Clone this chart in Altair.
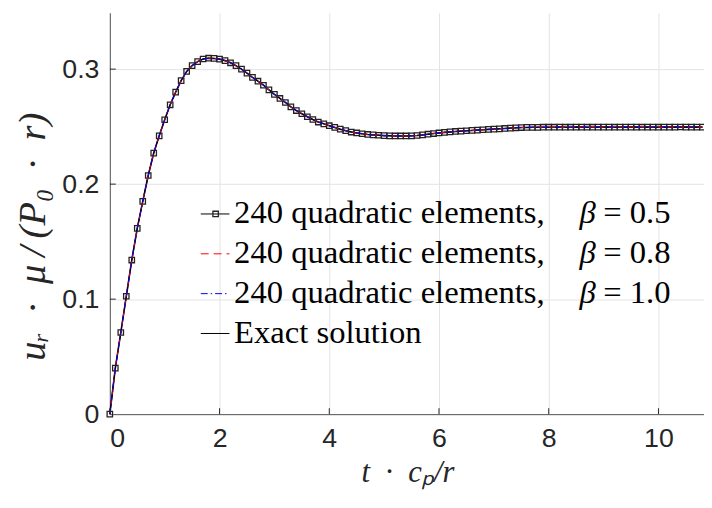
import altair as alt
import pandas as pd

# ---- data ----
T = [0.0, 0.1, 0.2, 0.3, 0.4, 0.5, 0.6, 0.7, 0.8, 0.9,
     1.0, 1.1, 1.2, 1.3, 1.4, 1.5, 1.6, 1.7, 1.8, 1.9,
     2.0, 2.1, 2.2, 2.3, 2.4, 2.5, 2.6, 2.7, 2.8, 2.9,
     3.0, 3.1, 3.2, 3.3, 3.4, 3.5, 3.6, 3.7, 3.8, 3.9,
     4.0, 4.1, 4.2, 4.3, 4.4, 4.5, 4.6, 4.7, 4.8, 4.9,
     5.0, 5.1, 5.2, 5.3, 5.4, 5.5, 5.6, 5.7, 5.8, 5.9,
     6.0, 6.1, 6.2, 6.3, 6.4, 6.5, 6.6, 6.7, 6.8, 6.9,
     7.0, 7.1, 7.2, 7.3, 7.4, 7.5, 7.6, 7.7, 7.8, 7.9,
     8.0, 8.1, 8.2, 8.3, 8.4, 8.5, 8.6, 8.7, 8.8, 8.9,
     9.0, 9.1, 9.2, 9.3, 9.4, 9.5, 9.6, 9.7, 9.8, 9.9,
     10.0, 10.1, 10.2, 10.3, 10.4, 10.5, 10.6, 10.7, 10.8]

U_EXACT = [0.0000, 0.0400, 0.0710, 0.1025, 0.1340, 0.1615, 0.1850, 0.2075, 0.2270, 0.2420,
           0.2560, 0.2690, 0.2800, 0.2900, 0.2980, 0.3030, 0.3065, 0.3088, 0.3095, 0.3093,
           0.3087, 0.3074, 0.3055, 0.3030, 0.3000, 0.2965, 0.2928, 0.2895, 0.2860, 0.2820,
           0.2780, 0.2745, 0.2710, 0.2672, 0.2640, 0.2612, 0.2586, 0.2562, 0.2540, 0.2524,
           0.2508, 0.2493, 0.2478, 0.2465, 0.2453, 0.2445, 0.2438, 0.2432, 0.2428, 0.2425,
           0.2422, 0.2420, 0.2419, 0.2419, 0.2419, 0.2420, 0.2423, 0.2428, 0.2434, 0.2440,
           0.2445, 0.2450, 0.2454, 0.2458, 0.2461, 0.2464, 0.2467, 0.2470, 0.2473, 0.2476,
           0.2478, 0.2481, 0.2484, 0.2487, 0.2490, 0.2492, 0.2493, 0.2494, 0.2494, 0.2495,
           0.2495, 0.2495, 0.2496, 0.2495, 0.2495, 0.2496, 0.2496, 0.2495, 0.2495, 0.2496,
           0.2496, 0.2496, 0.2495, 0.2496, 0.2496, 0.2496, 0.2496, 0.2495, 0.2496, 0.2496,
           0.2495, 0.2496, 0.2496, 0.2496, 0.2497, 0.2496, 0.2496, 0.2496, 0.2496]

# the three FE runs are indistinguishable from the exact curve at picture resolution
U_BETA05 = list(U_EXACT)
U_BETA08 = list(U_EXACT)
U_BETA10 = list(U_EXACT)

X_TICKS = [0, 2, 4, 6, 8, 10]
Y_TICKS = [0, 0.1, 0.2, 0.3]
Y_INNER_TICKS = [0.1, 0.2, 0.3]

LEG_PREFIX = ["240 quadratic elements,", "240 quadratic elements,",
              "240 quadratic elements,", "Exact solution"]
LEG_BETA = ["β", "β", "β", ""]
LEG_VALUE = ["= 0.5", "= 0.8", "= 1.0", ""]

# ---- layout / style ----
W, H = 601, 406
XMAX, YMAX = 10.83, 0.349
AX = "#262626"
SANS = "Liberation Sans"
SERIF = "Liberation Serif"
SP = "\u2002"
TH = "\u2009"

xs = alt.Scale(domain=[0, XMAX], nice=False, zero=False)
ys = alt.Scale(domain=[0, YMAX], nice=False, zero=False)

xaxis = alt.Axis(values=X_TICKS, format="d", grid=True, gridColor="#e3e3e3", gridWidth=1,
                 ticks=False, domainColor="#555555", domainWidth=1,
                 labelFont=SANS, labelFontSize=27, labelColor=AX, labelPadding=12,
                 title=f"t{SP}·{SP}cₚ/r", titleFont=SERIF, titleFontStyle="italic",
                 titleFontWeight="normal", titleFontSize=31, titleColor=AX,
                 titleX=301, titleY=68, titleBaseline="alphabetic", titleAlign="center")
yaxis = alt.Axis(values=Y_TICKS, format="~g", grid=True, gridColor="#e3e3e3", gridWidth=1,
                 ticks=False, domainColor="#555555", domainWidth=1,
                 labelFont=SANS, labelFontSize=27, labelColor=AX, labelPadding=11,
                 title=f"uᵣ{SP}·{SP}μ{TH}/{TH}(P₀{SP}·{SP}r)", titleFont=SERIF,
                 titleFontStyle="italic",
                 titleFontWeight="normal", titleFontSize=39, titleColor=AX,
                 titleAngle=270, titleX=-66, titleY=226, titleBaseline="alphabetic",
                 titleAlign="center")

def frame(u):
    return pd.DataFrame({"t": T, "u": u})

X = alt.X("t:Q", scale=xs, axis=xaxis)
Y = alt.Y("u:Q", scale=ys, axis=yaxis)

exact = alt.Chart(frame(U_EXACT)).mark_line(color="black", strokeWidth=1.6).encode(x=X, y=Y)
b05_line = alt.Chart(frame(U_BETA05)).mark_line(color="black", strokeWidth=1).encode(x=X, y=Y)
b05_pts = alt.Chart(frame(U_BETA05)).mark_point(shape="square", size=30, filled=False,
                                                 color="#222222", strokeWidth=1.3,
                                                 opacity=1).encode(x=X, y=Y)
b08 = alt.Chart(frame(U_BETA08)).mark_line(color="#ff0000", strokeWidth=1,
                                           strokeDash=[6, 4]).encode(x=X, y=Y)
b10 = alt.Chart(frame(U_BETA10)).mark_line(color="#0000ff", strokeWidth=1,
                                           strokeDash=[6, 3, 1.5, 3]).encode(x=X, y=Y)

# inward ticks (MATLAB style)
xt = alt.Chart(pd.DataFrame({"t": X_TICKS})).mark_rule(color=AX, strokeWidth=1).encode(
    x=X, y=alt.value(H), y2=alt.value(H - 6))
yt = alt.Chart(pd.DataFrame({"u": Y_INNER_TICKS})).mark_rule(color=AX, strokeWidth=1).encode(
    y=Y, x=alt.value(0), x2=alt.value(6))

# manual legend
LINE_Y0, TEXT_Y0, STEP = 203.5, 213.0, 40.3
FS = 33
leg_layers = []
one = pd.DataFrame({"k": [0]})
styles = [dict(color="black", strokeWidth=1),
          dict(color="#ff0000", strokeWidth=1, strokeDash=[8, 5]),
          dict(color="#0000ff", strokeWidth=1, strokeDash=[7, 3, 1.5, 3]),
          dict(color="black", strokeWidth=1)]
for i in range(4):
    ly = LINE_Y0 + i * STEP
    ty = TEXT_Y0 + i * STEP
    leg_layers.append(alt.Chart(one).mark_rule(**styles[i]).encode(
        x=alt.value(92), x2=alt.value(121), y=alt.value(ly)))
    if i == 0:
        leg_layers.append(alt.Chart(one).mark_point(shape="square", size=30, filled=False,
                                                    color="#222222", strokeWidth=1.3,
                                                    opacity=1).encode(
            x=alt.value(107), y=alt.value(ly)))
    leg_layers.append(alt.Chart(pd.DataFrame({"s": [LEG_PREFIX[i]]})).mark_text(
        align="left", baseline="alphabetic", font=SERIF, fontSize=FS, color="black").encode(
        text="s:N", x=alt.value(125.7), y=alt.value(ty)))
    if LEG_BETA[i]:
        leg_layers.append(alt.Chart(pd.DataFrame({"s": [LEG_BETA[i]]})).mark_text(
            align="left", baseline="alphabetic", font=SERIF, fontSize=FS, fontStyle="italic",
            color="black").encode(text="s:N", x=alt.value(475), y=alt.value(ty)))
        leg_layers.append(alt.Chart(pd.DataFrame({"s": [LEG_VALUE[i]]})).mark_text(
            align="left", baseline="alphabetic", font=SERIF, fontSize=FS,
            color="black").encode(text="s:N", x=alt.value(499), y=alt.value(ty)))

chart = alt.layer(exact, b05_line, b05_pts, b08, b10, xt, yt, *leg_layers).properties(
    width=W, height=H,
    autosize=alt.AutoSizeParams(type="none"),
    padding={"left": 103, "top": 2, "right": 0, "bottom": 84},
).configure_view(stroke=None)

chart.save("out.html", embed_options={"renderer": "svg", "actions": False})
